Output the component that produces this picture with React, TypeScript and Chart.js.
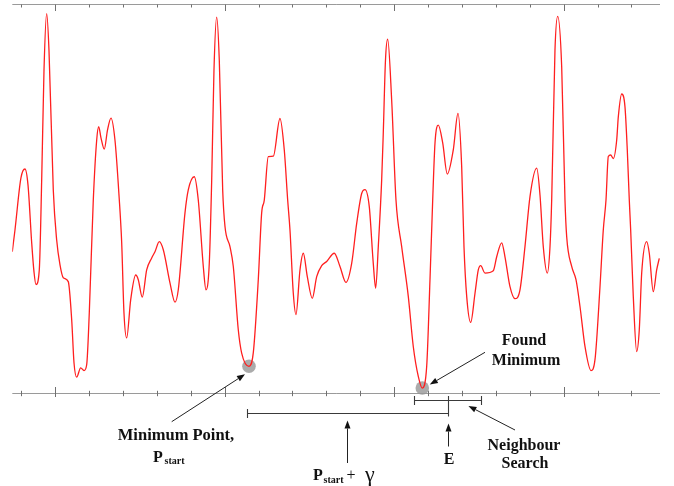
import React, { useEffect, useRef } from 'react';
import { Chart, registerables } from 'chart.js';

Chart.register(...registerables);

// ---- data (arbitrary signal units) ----
const signalX = [
  -2.65, -1.86, -0.1, 1.09, 1.98, 3.07, 3.75, 4.34, 5.31, 6.02, 6.7, 7.49, 8.17, 9.44, 10.44, 11.42, 12.39, 13.86,
  14.87, 15.55, 16.34, 17.52, 18.5, 19.29, 20.06, 21.24, 22.24, 22.83, 23.51, 24.48, 25.43, 26.46, 27.64, 28.82,
  29.62, 30.29, 31.09, 32.27, 33.75, 34.51, 35.69, 36.99, 38.47, 39.44, 40.71, 41.89, 43.86, 45.34, 46.31, 48.29,
  49.26, 51.03, 52.21, 53.69, 54.48, 55.46, 56.17, 56.84, 57.64, 58.41, 59.41, 60.09, 61.56, 62.54, 64.01, 65.01,
  67.17, 68.44, 69.91, 70.91, 71.68, 72.86, 74.34, 76.31, 77.58, 78.58, 79.26, 80.24, 81.03, 82.21, 83.19, 84.37,
  85.84, 87.14, 88.61, 90.09, 92.33, 94.01, 95.78, 97.46, 98.94, 100.41, 101.39, 102.65, 103.83, 104.54, 105.31,
  106.31, 106.78, 107.43, 108.08, 109.26, 110.53, 112.21, 114.16, 115.63, 117.11, 118.29, 119.59, 120.56, 121.36,
  122.04, 123.01, 124.31, 125.66, 127.43, 128.82, 129.91, 130.59, 131.39, 132.57, 133.84, 134.81, 135.52, 136.78,
  139.23, 140.24, 141.71, 142.68, 144.16, 145.63, 147.11, 148.58, 150.06, 152.04, 153.01, 153.98, 155.16, 155.96,
  156.46, 157.43, 158.23, 159.41, 160.38, 160.88, 162.36, 163.63, 164.81, 166.28, 168.05, 169.23, 170.71, 171.68,
  172.48, 173.16, 173.86, 174.63, 175.63, 176.11, 177.11, 178.08, 178.76, 179.35, 179.76, 180.53, 181.53, 182.3,
  183.01, 184.48, 185.25, 186.43, 187.43, 188.2,
];
const signalY = [
  36.3, 41.9, 55.3, 57.6, 53.5, 38.6, 31.1, 27.8, 31.6, 54.8, 83.0, 97.6, 88.2, 52.2, 39.3, 32.9, 29.6, 28.6,
  18.8, 7.7, 4.0, 6.4, 5.7, 7.2, 20.6, 49.6, 65.0, 68.5, 65.6, 62.7, 67.6, 70.7, 65.0, 50.9,
  38.6, 20.6, 14.1, 23.9, 30.3, 29.1, 24.6, 31.6, 34.7, 36.3, 38.9, 36.8, 28.3, 23.3, 26.5, 46.3,
  52.2, 55.6, 49.6, 32.5, 26.5, 33.4, 54.8, 83.0, 96.7, 85.6, 52.2, 42.8, 37.6, 32.5, 16.2, 10.2,
  6.8, 10.3, 29.1, 46.3, 49.6, 60.8, 60.9, 70.6, 62.5, 49.6, 41.9, 25.6, 20.1, 31.6, 35.9, 29.9,
  24.3, 29.9, 32.7, 33.8, 35.9, 32.5, 28.4, 33.3, 43.6, 51.3, 52.3, 47.9, 33.3, 26.9, 37.6,
  54.8, 66.8, 85.6, 91.0, 75.3, 49.6, 37.6, 24.8, 11.9, 4.2, 1.2, 6.8, 29.1, 49.6,
  64.3, 68.9, 64.3, 56.3, 62.5, 71.9, 58.2, 37.6, 24.8, 18.1, 25.6, 31.6, 32.7, 30.8,
  31.4, 35.0, 38.6, 35.0, 27.3, 24.2, 26.5, 37.6, 50.5, 57.8, 50.9, 37.6, 30.8, 37.6,
  49.6, 88.2, 96.9, 83.9, 49.6, 40.2, 32.5, 29.1, 22.2, 11.9, 5.7, 8.5, 27.3, 41.9,
  49.6, 60.8, 61.2, 60.3, 65.0, 71.0, 76.9, 73.6, 62.5, 49.6, 41.9, 24.8, 10.6, 16.2,
  30.8, 38.9, 35.9, 26.0, 31.6, 34.6,
];
const xTicks = [0, 10, 20, 30, 40, 50, 60, 70, 80, 90, 100, 110, 120, 130, 140, 150, 160, 170, 180];
const majorTicks = [10, 60, 110, 160];
const X_RANGE = [-2.65, 188.41];
const Y_RANGE = [0, 100];

const P_START_INDEX = 66; // minimum point, P_start
const FOUND_MIN_INDEX = 107; // found minimum
const E_X = 126.0; // P_start + gamma
const GAMMA_LABEL_X = 96.0;
const NEIGHBOUR_RANGE = [115.9, 135.6];
const NEIGHBOUR_ARROW_X = 131.9;
const BAR_Y = -5.1; // P_start .. E bar level
const NEIGHBOUR_Y = -2.0;

function seg(ctx: CanvasRenderingContext2D, x1: number, y1: number, x2: number, y2: number) {
  ctx.beginPath();
  ctx.moveTo(x1, y1);
  ctx.lineTo(x2, y2);
  ctx.stroke();
}

function arrow(ctx: CanvasRenderingContext2D, x1: number, y1: number, x2: number, y2: number) {
  const a = Math.atan2(y2 - y1, x2 - x1);
  const len = 8, w = 3;
  const bx = x2 - len * Math.cos(a), by = y2 - len * Math.sin(a);
  seg(ctx, x1, y1, bx, by);
  ctx.beginPath();
  ctx.moveTo(x2, y2);
  ctx.lineTo(bx + w * Math.sin(a), by - w * Math.cos(a));
  ctx.lineTo(bx - w * Math.sin(a), by + w * Math.cos(a));
  ctx.closePath();
  ctx.fill();
}

const overlay = {
  id: 'overlay',
  beforeDatasetsDraw(chart: any) {
    const { ctx, scales } = chart;
    const X = (v: number) => scales.x.getPixelForValue(v);
    const Y = (v: number) => scales.y.getPixelForValue(v);
    ctx.save();
    ctx.strokeStyle = '#9a9a9a';
    ctx.lineWidth = 1;
    const left = X(X_RANGE[0]), right = X(X_RANGE[1]);
    const top = Math.round(Y(Y_RANGE[1])) + 0.5, bottom = Math.round(Y(Y_RANGE[0])) + 0.5;
    seg(ctx, left, top, right, top);
    seg(ctx, left, bottom, right, bottom);
    ctx.strokeStyle = '#707070';
    for (const t of xTicks) {
      const p = Math.round(X(t)) + 0.5;
      const major = majorTicks.includes(t);
      seg(ctx, p, top, p, top + (major ? 6.5 : 3));
      seg(ctx, p, bottom - (major ? 6.5 : 2.7), p, bottom + (major ? 3.5 : 2.7));
    }
    ctx.fillStyle = 'rgba(150,150,150,0.8)';
    for (const i of [P_START_INDEX, FOUND_MIN_INDEX]) {
      ctx.beginPath();
      ctx.arc(X(signalX[i]), Y(signalY[i]), 6.8, 0, Math.PI * 2);
      ctx.fill();
    }
    ctx.restore();
  },
  afterDatasetsDraw(chart: any) {
    const { ctx, scales } = chart;
    const X = (v: number) => scales.x.getPixelForValue(v);
    const Y = (v: number) => scales.y.getPixelForValue(v);
    ctx.save();
    // bars
    ctx.strokeStyle = '#3a3a3a';
    ctx.lineWidth = 1.1;
    const barY = Math.round(Y(BAR_Y)) + 0.5;
    const nbY = Math.round(Y(NEIGHBOUR_Y)) + 0.5;
    const ps = Math.round(X(signalX[P_START_INDEX])) - 1.5;
    const ex = Math.round(X(E_X)) + 0.5;
    const n0 = Math.round(X(NEIGHBOUR_RANGE[0])) + 0.5;
    const n1 = Math.round(X(NEIGHBOUR_RANGE[1])) + 0.5;
    seg(ctx, ps, barY, ex, barY);
    seg(ctx, ps, barY - 4.5, ps, barY + 4.5);
    seg(ctx, ex, nbY - 4.5, ex, barY + 3);
    seg(ctx, n0, nbY, n1, nbY);
    seg(ctx, n0, nbY - 4.5, n0, nbY + 4.5);
    seg(ctx, n1, nbY - 4.5, n1, nbY + 4.5);

    // arrows
    ctx.strokeStyle = '#222';
    ctx.fillStyle = '#111';
    ctx.lineWidth = 1;
    const pmx = X(signalX[P_START_INDEX]), pmy = Y(signalY[P_START_INDEX]);
    const fmx = X(signalX[FOUND_MIN_INDEX]), fmy = Y(signalY[FOUND_MIN_INDEX]);
    arrow(ctx, 171.7, 421.7, pmx - 4, pmy + 8);
    arrow(ctx, 485, 352.3, fmx + 7.5, fmy - 3.5);
    const gx = Math.round(X(GAMMA_LABEL_X)) + 0.5;
    arrow(ctx, gx, 463, gx, barY + 7);
    arrow(ctx, ex, 446.5, ex, barY + 10);
    arrow(ctx, 515, 430, X(NEIGHBOUR_ARROW_X), nbY + 5.5);

    // texts
    ctx.fillStyle = '#111';
    ctx.textBaseline = 'alphabetic';
    ctx.textAlign = 'center';
    ctx.font = "bold 16px 'Liberation Serif', 'Times New Roman', serif";
    ctx.fillText('Found', 524, 345);
    ctx.fillText('Minimum', 526, 365);
    ctx.fillText('Neighbour', 524, 449.5);
    ctx.fillText('Search', 525, 467.5);
    ctx.fillText('E', 449, 464);
    ctx.font = "bold 16.5px 'Liberation Serif', 'Times New Roman', serif";
    ctx.fillText('Minimum Point,', 176, 440);
    ctx.font = "bold 16px 'Liberation Serif', 'Times New Roman', serif";
    ctx.textAlign = 'left';
    ctx.fillText('P', 153, 461.5);
    ctx.fillText('P', 313, 480);
    ctx.font = "bold 10px 'Liberation Serif', 'Times New Roman', serif";
    ctx.fillText('start', 164.5, 464);
    ctx.fillText('start', 323.5, 482.5);
    ctx.font = "16px 'Liberation Serif', 'Times New Roman', serif";
    ctx.fillText('+', 346.5, 480);
    ctx.font = "22px 'Liberation Serif', 'Times New Roman', serif";
    ctx.fillText('\u03B3', 365, 481);
    ctx.restore();
  },
};

export default function App() {
  const ref = useRef<HTMLCanvasElement | null>(null);
  useEffect(() => {
    if (!ref.current) return;
    const chart = new Chart(ref.current, {
      type: 'line',
      data: {
        datasets: [
          {
            data: signalX.map((x, i) => ({ x, y: signalY[i] })),
            borderColor: '#ff1f1f',
            borderWidth: 1.3,
            pointRadius: 0,
            fill: false,
            cubicInterpolationMode: 'monotone',
          },
        ],
      },
      options: {
        animation: false,
        responsive: false,
        events: [],
        layout: { padding: { left: 12.3, right: 14, top: 4.3, bottom: 93.3 } },
        scales: {
          x: { type: 'linear', display: false, min: X_RANGE[0], max: X_RANGE[1] },
          y: { type: 'linear', display: false, min: Y_RANGE[0], max: Y_RANGE[1] },
        },
        plugins: { legend: { display: false }, tooltip: { enabled: false } },
      },
      plugins: [overlay],
    } as any);
    return () => chart.destroy();
  }, []);
  return (
    <div style={{ position: 'absolute', left: 0, top: 0, width: 674, height: 486, background: '#fff' }}>
      <canvas ref={ref} width={674} height={486} style={{ display: 'block' }} />
    </div>
  );
}
